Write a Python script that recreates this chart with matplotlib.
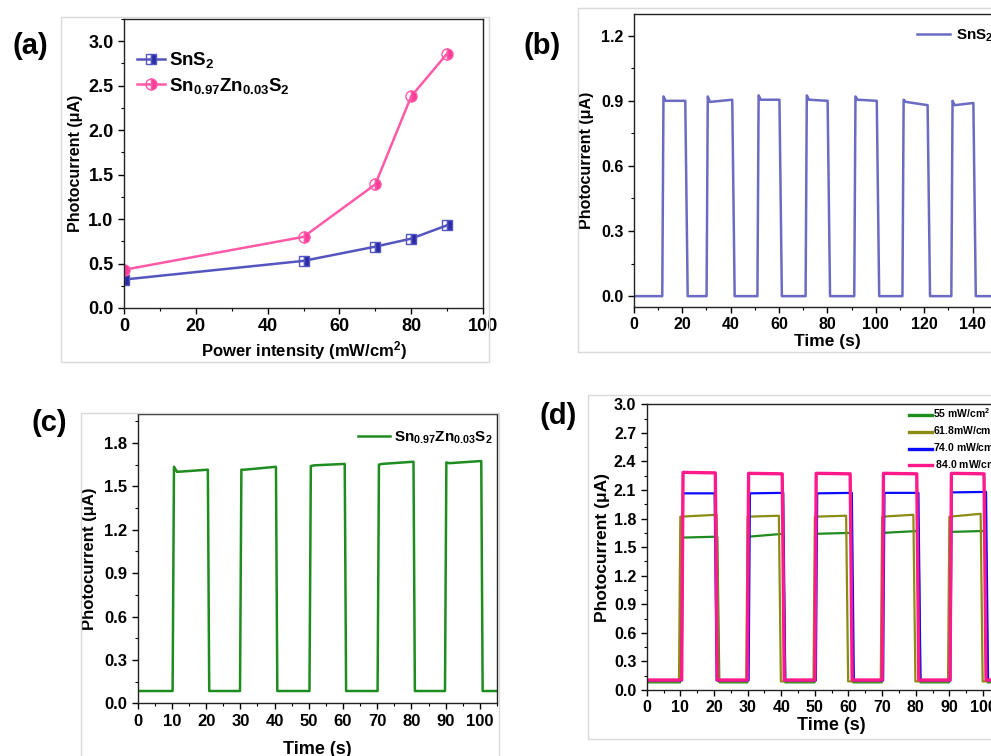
import numpy as np
import matplotlib
matplotlib.use("Agg")
import matplotlib.pyplot as plt
from matplotlib.patches import Rectangle
from matplotlib.ticker import MultipleLocator, FormatStrFormatter

plt.rcParams['font.family'] = ['Liberation Sans', 'DejaVu Sans']
plt.rcParams['font.weight'] = 'bold'
plt.rcParams['axes.labelweight'] = 'bold'
plt.rcParams['mathtext.fontset'] = 'custom'
plt.rcParams['mathtext.rm'] = 'Liberation Sans:bold'
plt.rcParams['mathtext.it'] = 'Liberation Sans:bold'
plt.rcParams['mathtext.bf'] = 'Liberation Sans:bold'
plt.rcParams['mathtext.default'] = 'rm'

# ---------------------------------------------------------------------------
# (a) photocurrent vs power intensity
# ---------------------------------------------------------------------------
POWER = [0, 50, 70, 80, 90]
I_SNS2 = [0.32, 0.53, 0.69, 0.78, 0.93]
I_ZN = [0.43, 0.80, 1.39, 2.38, 2.86]

# ---------------------------------------------------------------------------
# (b) SnS2 on/off cycles
# ---------------------------------------------------------------------------
B_ON = [11.8, 30.1, 51.1, 71.0, 91.1, 111.0, 131.2]
B_OFF = [21.3, 40.7, 60.2, 80.1, 100.4, 121.4, 140.3]
B_PEAK = [0.920, 0.920, 0.925, 0.925, 0.920, 0.905, 0.900]
B_START = [0.900, 0.895, 0.905, 0.905, 0.905, 0.895, 0.880]
B_END = [0.900, 0.905, 0.905, 0.900, 0.900, 0.880, 0.890]
B_BASE = 0.0
B_TMAX = 160

# ---------------------------------------------------------------------------
# (c) Sn0.97Zn0.03S2 on/off cycles
# ---------------------------------------------------------------------------
C_ON = [10.2, 29.9, 50.2, 70.1, 89.8]
C_OFF = [20.5, 40.4, 60.5, 80.6, 100.4]
C_PEAK = [1.635, 1.615, 1.640, 1.650, 1.665]
C_START = [1.600, 1.615, 1.645, 1.655, 1.660]
C_END = [1.615, 1.635, 1.655, 1.670, 1.675]
C_BASE = 0.085
C_TMAX = 105

# ---------------------------------------------------------------------------
# (d) cycles at different intensities
# ---------------------------------------------------------------------------
D_LABELS = ["55 mW/cm$^2$", "61.8mW/cm$^2$", "74.0 mW/cm$^2$", " 84.0 mW/cm$^2$"]
D_ON_55 = [9.9, 29.9, 49.9, 69.9, 89.9]
D_OFF_55 = [21.0, 40.6, 60.8, 80.8, 100.8]
D_START_55 = [1.60, 1.61, 1.64, 1.65, 1.66]
D_END_55 = [1.61, 1.64, 1.65, 1.67, 1.67]
D_BASE_55 = 0.08

D_ON_62 = [9.6, 29.6, 49.6, 69.6, 89.6]
D_OFF_62 = [20.8, 39.3, 59.3, 79.3, 99.3]
D_START_62 = [1.82, 1.82, 1.82, 1.82, 1.82]
D_END_62 = [1.84, 1.83, 1.83, 1.84, 1.85]
D_BASE_62 = 0.09

D_ON_74 = [10.4, 30.3, 50.3, 70.3, 90.3]
D_OFF_74 = [20.2, 40.6, 61.0, 80.8, 100.9]
D_START_74 = [2.065, 2.065, 2.065, 2.070, 2.075]
D_END_74 = [2.065, 2.070, 2.070, 2.070, 2.080]
D_BASE_74 = 0.10

D_ON_84 = [10.4, 29.9, 50.0, 70.0, 90.2]
D_OFF_84 = [20.4, 40.3, 60.5, 80.3, 100.3]
D_START_84 = [2.285, 2.275, 2.275, 2.275, 2.275]
D_END_84 = [2.280, 2.270, 2.270, 2.270, 2.270]
D_BASE_84 = 0.105
D_TMAX = 110


def pulse_trace(on, off, start, end, base, tmax, peak=None, rise=0.5, fall=0.8):
    """Build the polyline of a square on/off photocurrent trace."""
    t, y = [0.0], [base]
    for i in range(len(on)):
        t += [on[i], on[i] + rise]
        y += [base, peak[i] if peak else start[i]]
        if peak:
            t.append(on[i] + rise + 0.9)
            y.append(start[i])
        t += [off[i], off[i] + fall]
        y += [end[i], base]
    t.append(tmax)
    y.append(base)
    return np.array(t), np.array(y)


def style_axes(ax, tick_size):
    for s in ax.spines.values():
        s.set_linewidth(1.0)
        s.set_color('#222222')
    ax.tick_params(which='major', direction='out', length=4, width=1,
                   labelsize=tick_size, top=False, right=False)
    ax.tick_params(which='minor', direction='out', length=2.5, width=0.8,
                   top=False, right=False)
    for lab in ax.get_xticklabels() + ax.get_yticklabels():
        lab.set_fontweight('bold')


W, H = 991, 756
fig = plt.figure(figsize=(W / 100, H / 100), dpi=100)


def px_axes(left, top, width, height):
    return fig.add_axes([left / W, 1 - (top + height) / H, width / W, height / H])


def frame(left, top, right, bottom):
    fig.add_artist(Rectangle((left / W, 1 - bottom / H), (right - left) / W,
                             (bottom - top) / H, transform=fig.transFigure,
                             fill=False, edgecolor='#d9d9d9', lw=1.0))


frame(61, 17, 489, 362)
frame(578, 8, 1100, 352)
frame(81, 413, 499, 900)
frame(588, 395, 1100, 739)

# ---- (a)
ax = px_axes(124, 19, 359, 289)
ax.plot(POWER, I_SNS2, '-s', color='#5555c0', lw=1.8, ms=7, fillstyle='right',
        mfc='#2a2aa8', mec='#5555c0', mew=1.0, label='SnS$_2$')
ax.plot(POWER, I_ZN, '-o', color='#ff5aa8', lw=1.8, ms=8, fillstyle='right',
        mfc='#ff3c9a', mec='#ff5aa8', mew=1.0, label='Sn$_{0.97}$Zn$_{0.03}$S$_2$')
ax.set_xlim(0, 100)
ax.set_ylim(0, 3.25)
ax.xaxis.set_major_locator(MultipleLocator(20))
ax.xaxis.set_minor_locator(MultipleLocator(10))
ax.yaxis.set_major_locator(MultipleLocator(0.5))
ax.yaxis.set_minor_locator(MultipleLocator(0.25))
ax.yaxis.set_major_formatter(FormatStrFormatter('%.1f'))
ax.set_xlabel('Power intensity (mW/cm$^2$)', fontsize=12, labelpad=3)
ax.set_ylabel('Photocurrent (μA)', fontsize=11.5, labelpad=4)
style_axes(ax, 13)
ax.legend(loc='upper left', bbox_to_anchor=(-0.01, 0.95), frameon=False,
          handlelength=1.5, handletextpad=0.2, labelspacing=0.3,
          prop={'weight': 'bold', 'size': 13.5})

# ---- (b)
ax = px_axes(633.7, 14, B_TMAX * 2.421, 293)
t, y = pulse_trace(B_ON, B_OFF, B_START, B_END, B_BASE, B_TMAX, peak=B_PEAK,
                   rise=0.5, fall=1.0)
ax.plot(t, y, color='#6b6bc4', lw=1.8, label='SnS$_2$')
ax.set_xlim(0, B_TMAX)
ax.set_ylim(-0.05, 1.30)
ax.xaxis.set_major_locator(MultipleLocator(20))
ax.xaxis.set_minor_locator(MultipleLocator(10))
ax.yaxis.set_major_locator(MultipleLocator(0.3))
ax.yaxis.set_minor_locator(MultipleLocator(0.15))
ax.yaxis.set_major_formatter(FormatStrFormatter('%.1f'))
ax.set_xlabel('Time (s)', fontsize=12.5, labelpad=1)
ax.set_ylabel('Photocurrent (μA)', fontsize=11.5, labelpad=5)
style_axes(ax, 11.5)
ax.legend(loc='upper left', bbox_to_anchor=(0.695, 1.0), frameon=False,
          handlelength=2.2, handletextpad=0.4, prop={'weight': 'bold', 'size': 11})

# ---- (c)
ax = px_axes(137.7, 414, 359.3, 289.3)
t, y = pulse_trace(C_ON, C_OFF, C_START, C_END, C_BASE, C_TMAX, peak=C_PEAK,
                   rise=0.4, fall=0.4)
ax.plot(t, y, color='#1f8c1f', lw=1.8, label='Sn$_{0.97}$Zn$_{0.03}$S$_2$')
ax.set_xlim(0, C_TMAX)
ax.set_ylim(0, 2.0)
ax.xaxis.set_major_locator(MultipleLocator(10))
ax.xaxis.set_minor_locator(MultipleLocator(5))
ax.yaxis.set_major_locator(MultipleLocator(0.3))
ax.yaxis.set_minor_locator(MultipleLocator(0.15))
ax.yaxis.set_major_formatter(FormatStrFormatter('%.1f'))
ax.set_xlabel('Time (s)', fontsize=13, labelpad=9)
ax.set_ylabel('Photocurrent (μA)', fontsize=12, labelpad=5)
style_axes(ax, 12)
ax.legend(loc='upper left', bbox_to_anchor=(0.575, 0.995), frameon=False,
          handlelength=2.1, handletextpad=0.25, prop={'weight': 'bold', 'size': 11})

# ---- (d)
ax = px_axes(646.7, 404.3, D_TMAX * 3.363, 285.7)
series = [
    (D_ON_55, D_OFF_55, D_START_55, D_END_55, D_BASE_55, '#1f8c1f', 1.6),
    (D_ON_62, D_OFF_62, D_START_62, D_END_62, D_BASE_62, '#8c8c14', 1.6),
    (D_ON_74, D_OFF_74, D_START_74, D_END_74, D_BASE_74, '#0a0aff', 1.6),
    (D_ON_84, D_OFF_84, D_START_84, D_END_84, D_BASE_84, '#ff1a8c', 2.4),
]
for (on, off, st, en, base, col, lw), lab in zip(series, D_LABELS):
    t, y = pulse_trace(on, off, st, en, base, D_TMAX, rise=0.4, fall=0.6)
    ax.plot(t, y, color=col, lw=lw, label=lab)
ax.set_xlim(0, D_TMAX)
ax.set_ylim(0, 3.0)
ax.xaxis.set_major_locator(MultipleLocator(10))
ax.xaxis.set_minor_locator(MultipleLocator(5))
ax.yaxis.set_major_locator(MultipleLocator(0.3))
ax.yaxis.set_minor_locator(MultipleLocator(0.15))
ax.yaxis.set_major_formatter(FormatStrFormatter('%.1f'))
ax.set_xlabel('Time (s)', fontsize=13, labelpad=1)
ax.set_ylabel('Photocurrent (μA)', fontsize=12.5, labelpad=3)
style_axes(ax, 11.5)
leg = ax.legend(loc='upper left', bbox_to_anchor=(0.685, 1.025), frameon=False,
                handlelength=2.2, handletextpad=0.1, labelspacing=0.3,
                prop={'weight': 'bold', 'size': 7.5})
for h in leg.get_lines():
    h.set_linewidth(2.4)

# panel letters
for lab, x, y in [('(a)', 30, 46), ('(b)', 542, 46), ('(c)', 49, 423), ('(d)', 558, 416)]:
    fig.text(x / W, 1 - y / H, lab, fontsize=21, fontweight='bold',
             ha='center', va='center')

fig.savefig('out.png', dpi=100)
